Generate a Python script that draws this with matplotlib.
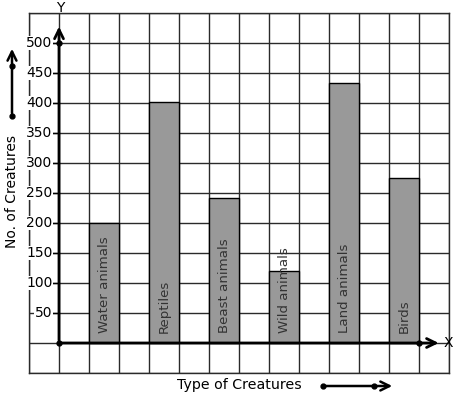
import matplotlib
matplotlib.use("Agg")
import matplotlib.pyplot as plt
from matplotlib.lines import Line2D

categories = ["Water animals", "Reptiles", "Beast animals", "Wild animals", "Land animals", "Birds"]
values = [200, 402, 242, 120, 433, 275]
y_ticks = [50, 100, 150, 200, 250, 300, 350, 400, 450, 500]

FS = 10.0
FS_BAR = 9.6
W, H = 457, 399
fig = plt.figure(figsize=(W / 100, H / 100), dpi=100)
ax = fig.add_axes([29 / W, (H - 373) / H, 420 / W, 360 / H])
ax.set_xlim(-1, 13)
ax.set_ylim(-50, 550)
ax.set_xticks(range(-1, 14))
ax.set_yticks(range(-50, 551, 50))
ax.tick_params(length=0, labelbottom=False, labelleft=False)
ax.grid(True, color="#2a2a2a", lw=1.0, zorder=0)
for s in ax.spines.values():
    s.set_color("#2a2a2a")
    s.set_linewidth(1.0)

xs = [2 * i + 1.5 for i in range(len(categories))]
ax.bar(xs, values, width=1.0, color="#999999", edgecolor="black", lw=1.0, zorder=2)
for x, c in zip(xs, categories):
    ax.text(x, 17, c, rotation=90, ha="center", va="bottom", fontsize=FS_BAR,
            color="#333333", zorder=4)

# y tick labels
for v in y_ticks:
    ax.plot([-0.22, 0], [v, v], color="black", lw=1.0, zorder=3)
    ax.text(-0.22, v, str(v), ha="right", va="center", fontsize=FS, color="black",
            bbox=dict(facecolor="white", edgecolor="none", pad=0.3), zorder=5)

# axes with arrows
ap_axis = dict(arrowstyle="->,head_length=0.65,head_width=0.32", lw=2.0, color="black")
ax.annotate("", xy=(0, 532), xytext=(0, 0), arrowprops=ap_axis, zorder=6, annotation_clip=False)
ax.annotate("", xy=(12.75, 0), xytext=(0, 0), arrowprops=ap_axis, zorder=6, annotation_clip=False)
ax.plot([0, 0, 12], [0, 500, 0], "o", color="black", ms=3.5, zorder=7, clip_on=False)
ax.text(0.05, 558, "Y", ha="center", va="center", fontsize=FS, clip_on=False)
ax.text(12.98, 0, "X", ha="center", va="center", fontsize=FS, clip_on=False)

# axis titles with decorative arrows
fig.text(12 / W, (H - 191) / H, "No. of Creatures", rotation=90, ha="center", va="center", fontsize=FS)
fig.text(239 / W, (H - 385) / H, "Type of Creatures", ha="center", va="center", fontsize=10.2)

ap = dict(arrowstyle="->,head_length=0.65,head_width=0.32", lw=1.8, color="black")
ax.annotate("", xy=(12, H - 46), xytext=(12, H - 116), xycoords="figure pixels",
            textcoords="figure pixels", arrowprops=ap, annotation_clip=False)
ax.annotate("", xy=(395, H - 386), xytext=(323, H - 386), xycoords="figure pixels",
            textcoords="figure pixels", arrowprops=ap, annotation_clip=False)
fig.add_artist(Line2D([12 / W, 12 / W], [(H - 116) / H, (H - 66) / H], marker="o", ms=3.5,
                      lw=0, color="black", transform=fig.transFigure))
fig.add_artist(Line2D([323 / W, 374 / W], [(H - 386) / H, (H - 386) / H], marker="o", ms=3.5,
                      lw=0, color="black", transform=fig.transFigure))

fig.savefig("out.png", dpi=100, facecolor="white")
